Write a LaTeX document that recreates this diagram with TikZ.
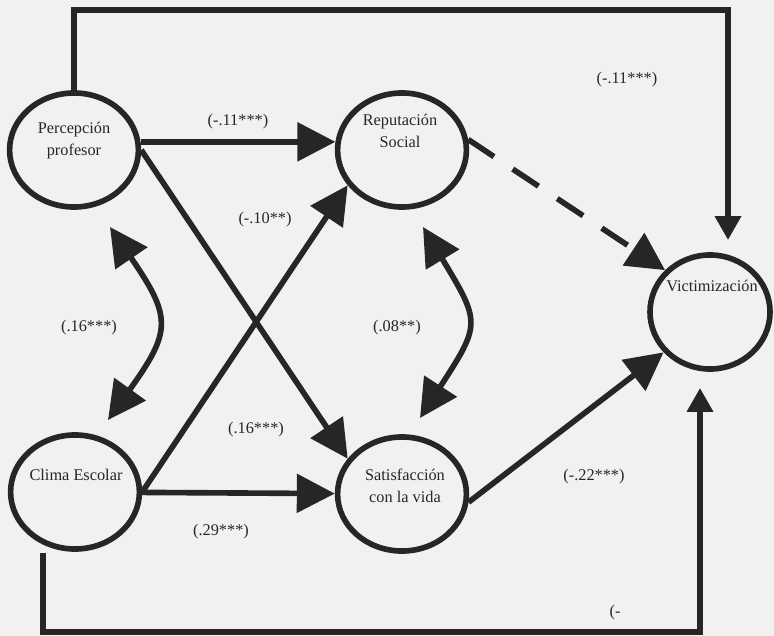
\documentclass[tikz,border=0pt]{standalone}
\usepackage{fontspec}
\setmainfont{Liberation Serif}
\usetikzlibrary{arrows.meta,shapes.geometric}
\definecolor{paper}{HTML}{F1F1EF}
\definecolor{ink}{HTML}{262626}

\begin{document}
\begin{tikzpicture}[x=0.025cm, y=-0.025cm, color=ink,
    font=\fontsize{11.6}{15.6}\selectfont,
    var/.style={ellipse, draw, line width=4pt, minimum width=3.22cm, minimum height=2.85cm, inner sep=0pt},
    link/.style={line width=4pt, -{Triangle[length=27pt, width=27pt]}},
    longlink/.style={line width=4pt, -{Triangle[length=17pt, width=18pt]}},
    both/.style={line width=4pt, {Triangle[length=27pt, width=27pt]}-{Triangle[length=27pt, width=27pt]}},
    vartext/.style={align=center, inner sep=0pt},
    coef/.style={inner sep=1pt}]
    \fill[paper] (0,0) rectangle (774,636);
    \useasboundingbox (0,0) rectangle (774,636);

    % variables
    \node (perc) [var] at (74,150) {};
    \node (rep) [var] at (402,150) {};
    \node (vict) [var, minimum width=3.0cm] at (710,312) {};
    \node (clima) [var] at (75,492) {};
    \node (sat) [var] at (402,494) {};
    \node (percT) [vartext] at (74,141) {Percepción\\profesor};
    \node (repT) [vartext] at (400,131) {Reputación\\Social};
    \node (victT) [vartext] at (712,286) {Victimización};
    \node (climaT) [vartext] at (76,475) {Clima Escolar};
    \node (satT) [vartext] at (405,486) {Satisfacción\\con la vida};

    % corners of the long paths
    \coordinate (tl) at (74,10);
    \coordinate (tr) at (728,10);
    \coordinate (vtop) at (728,240);
    \coordinate (cb) at (43,553);
    \coordinate (bl) at (43,632);
    \coordinate (br) at (700,632);
    \coordinate (vbot) at (700,388);
    \coordinate (pcA) at (110,227);
    \coordinate (pcB) at (108,420);
    \coordinate (rsA) at (423,227);
    \coordinate (rsB) at (420,418);

    % paths
    \draw[longlink] (perc.north) -- (tl) -- (tr) -- (vtop);
    \draw[longlink] (cb) -- (bl) -- (br) -- (vbot);
    \draw[link] (perc.7) -- (rep.173);
    \draw[link] (perc.east) -- (sat.147);
    \draw[link] (clima.east) -- (rep.213);
    \draw[link] (clima) -- (sat);
    \draw[link] (sat.353) -- (vict.221);
    \draw[link, dash pattern=on 22pt off 16pt] (rep.9) -- (vict.137);
    \draw[both] (pcA) to[bend left=35, looseness=1.45] (pcB);
    \draw[both] (rsA) to[bend left=32, looseness=1.5] (rsB);

    % coefficients
    \node (c1) [coef] at (627,80) {(-.11***)};
    \node (c2) [coef] at (238,122) {(-.11***)};
    \node (c3) [coef] at (265,220) {(-.10**)};
    \node (c4) [coef] at (89,328) {(.16***)};
    \node (c5) [coef] at (397,328) {(.08**)};
    \node (c6) [coef] at (256,430) {(.16***)};
    \node (c7) [coef] at (221,532) {(.29***)};
    \node (c8) [coef] at (594,477) {(-.22***)};
    \node (c9) [coef] at (615,613) {(-};
\end{tikzpicture}
\end{document}
